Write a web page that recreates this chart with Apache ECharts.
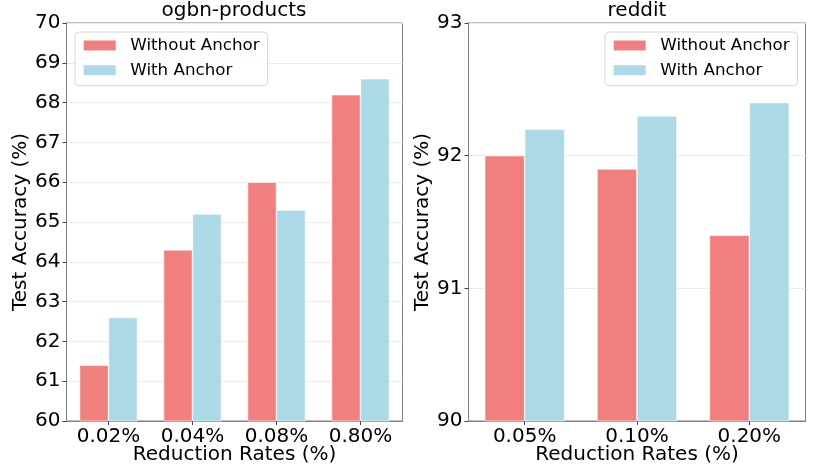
<!DOCTYPE html>
<html>
<head>
<meta charset="utf-8">
<script src="https://cdn.jsdelivr.net/npm/echarts@6/dist/echarts.min.js"></script>
<style>
html,body{margin:0;padding:0;background:#fff;width:830px;height:468px;overflow:hidden}
#c{width:830px;height:468px;position:absolute;left:0;top:0}
</style>
</head>
<body>
<div id="c"></div>
<script>
const categoriesProducts = ['0.02%', '0.04%', '0.08%', '0.80%'];
const withoutProducts = [61.4, 64.3, 66.0, 68.2];
const withProducts = [62.6, 65.2, 65.3, 68.6];
const categoriesReddit = ['0.05%', '0.10%', '0.20%'];
const withoutReddit = [92.0, 91.9, 91.4];
const withReddit = [92.2, 92.3, 92.4];
const seriesNames = ['Without Anchor', 'With Anchor'];
const colors = ['#F08080', '#ADD8E6'];

const F = 'DejaVu Sans';
const chart = echarts.init(document.getElementById('c'), null, {renderer: 'canvas', width: 830, height: 468});

function xAxis(idx, cats) {
  return {
    type: 'category', gridIndex: idx, data: cats,
    name: 'Reduction Rates (%)', nameLocation: 'middle', nameGap: 24, nameMoveOverlap: false,
    nameTextStyle: {fontFamily: F, fontSize: 20, color: '#000', verticalAlign: 'top', lineHeight: 20},
    axisLine: {show: true, lineStyle: {color: '#808080', width: 1}},
    axisTick: {show: true, alignWithLabel: true, length: 4, lineStyle: {color: '#444'}},
    axisLabel: {fontFamily: F, fontSize: 20, color: '#000', margin: 6, lineHeight: 20},
    splitLine: {show: false}
  };
}
function yAxis(idx, min, max) {
  return {
    type: 'value', gridIndex: idx, min: min, max: max, interval: 1,
    name: 'Test Accuracy (%)', nameLocation: 'middle', nameGap: 34,
    nameTextStyle: {fontFamily: F, fontSize: 20, color: '#000', lineHeight: 20},
    axisLine: {show: true, lineStyle: {color: '#808080', width: 1}},
    axisTick: {show: true, length: 4, lineStyle: {color: '#444'}},
    axisLabel: {fontFamily: F, fontSize: 20, color: '#000', margin: 6},
    splitLine: {show: true, lineStyle: {color: '#ebebeb', width: 1}}
  };
}
function bar(name, x, data, color, bw) {
  return {
    type: 'bar', name: name, xAxisIndex: x, yAxisIndex: x, data: data,
    barWidth: bw, barGap: '0%',
    itemStyle: {color: color, borderColor: '#ffffff', borderWidth: 0.6},
    emphasis: {disabled: true}
  };
}
function legend(left) {
  return {
    orient: 'vertical', left: left, top: 32,
    data: seriesNames, itemWidth: 34, itemHeight: 12, itemGap: 7.7,
    padding: [5, 8, 7, 6.7],
    borderColor: '#d6d6d6', borderWidth: 1, borderRadius: 4,
    backgroundColor: 'rgba(255,255,255,0.8)',
    textStyle: {fontFamily: F, fontSize: 16.7, lineHeight: 17, color: '#000', padding: [0, 0, 0, 8.6]},
    icon: 'rect', selectedMode: false
  };
}

chart.setOption({
  animation: false,
  color: colors,
  title: [
    {text: 'ogbn-products', left: 234, top: 1, textAlign: 'center', padding: 0,
     textStyle: {fontFamily: F, fontSize: 20, lineHeight: 20, fontWeight: 'normal', color: '#000'}},
    {text: 'reddit', left: 637, top: 1, textAlign: 'center', padding: 0,
     textStyle: {fontFamily: F, fontSize: 20, lineHeight: 20, fontWeight: 'normal', color: '#000'}}
  ],
  grid: [
    {left: 66.5, top: 23, width: 336, height: 398, show: true, borderColor: '#808080', borderWidth: 1,
     containLabel: false, outerBoundsMode: 'none'},
    {left: 468.5, top: 23, width: 337, height: 398, show: true, borderColor: '#808080', borderWidth: 1,
     containLabel: false, outerBoundsMode: 'none'}
  ],
  legend: [legend(75), legend(605)],
  xAxis: [xAxis(0, categoriesProducts), xAxis(1, categoriesReddit)],
  yAxis: [yAxis(0, 60, 70), yAxis(1, 90, 93)],
  series: [
    bar(seriesNames[0], 0, withoutProducts, colors[0], 29),
    bar(seriesNames[1], 0, withProducts, colors[1], 29),
    bar(seriesNames[0], 1, withoutReddit, colors[0], 40),
    bar(seriesNames[1], 1, withReddit, colors[1], 40)
  ]
});
</script>
</body>
</html>
